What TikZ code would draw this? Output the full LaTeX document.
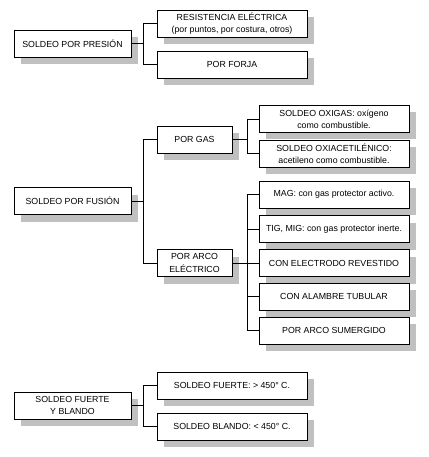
\documentclass[tikz,border=0pt]{standalone}
\usepackage{fontspec}
\setmainfont{Liberation Sans}
\usetikzlibrary{shadows}
\definecolor{shadowgray}{RGB}{192,192,192}
\tikzset{
  box/.style={draw=black, line width=0.9pt, fill=white, align=center,
    inner sep=1pt, minimum height=27pt,
    font=\fontsize{8.8}{12.2}\selectfont,
    drop shadow={shadow xshift=7pt, shadow yshift=-7pt, fill=shadowgray, opacity=1}},
  wide/.style={box, minimum width=150pt},
  lead/.style={box, minimum width=117pt},
  mid/.style={box, minimum width=75pt},
  link/.style={draw=black, line width=0.8pt}
}
\begin{document}
\begin{tikzpicture}[x=1pt,y=-1pt]
\useasboundingbox (0,0) rectangle (428,457);
% group 1
\node[lead] (pres) at (72.5,43.5) {SOLDEO POR PRESIÓN};
\node[wide] (resis) at (232,23.5) {RESISTENCIA ELÉCTRICA\\(por puntos, por costura, otros)};
\node[wide] (forja) at (232,64.5) {POR FORJA};
% group 2
\node[lead] (fus) at (72.5,201) {SOLDEO POR FUSIÓN};
\node[mid] (gas) at (194.5,139.5) {POR GAS};
\node[wide] (oxig) at (334,119) {SOLDEO OXIGAS: oxígeno\\como combustible.};
\node[wide] (oxiac) at (334,153.5) {SOLDEO OXIACETILÉNICO:\\acetileno como combustible.};
\node[mid] (arco) at (194.5,263) {POR ARCO\\ELÉCTRICO};
\node[wide] (mag) at (334,194.5) {MAG: con gas protector activo.};
\node[wide] (tig) at (334,229) {TIG, MIG: con gas protector inerte.};
\node[wide] (elec) at (334,263) {CON ELECTRODO REVESTIDO};
\node[wide] (alam) at (334,296.5) {CON ALAMBRE TUBULAR};
\node[wide] (sum) at (334,330.5) {POR ARCO SUMERGIDO};
% group 3
\node[lead] (fyb) at (72.5,405.5) {SOLDEO FUERTE\\Y BLANDO};
\node[wide] (fuerte) at (232,385.5) {SOLDEO FUERTE: > 450° C.};
\node[wide] (blando) at (232,426.5) {SOLDEO BLANDO: < 450° C.};
% connectors
\draw[link] (pres.east) -- ++(12,0) coordinate (s1);
\draw[link] (s1) |- (resis.west);
\draw[link] (s1) |- (forja.west);
\draw[link] (fus.east) -- ++(12,0) coordinate (s2);
\draw[link] (s2) |- (gas.west);
\draw[link] (s2) |- (arco.west);
\draw[link] (gas.east) -- ++(15,0) coordinate (s3);
\draw[link] (s3) |- (oxig.west);
\draw[link] (s3) |- (oxiac.west);
\draw[link] (arco.east) -- ++(15,0) coordinate (s4);
\draw[link] (s4) |- (mag.west);
\draw[link] (s4) |- (tig.west);
\draw[link] (s4) |- (elec.west);
\draw[link] (s4) |- (alam.west);
\draw[link] (s4) |- (sum.west);
\draw[link] (fyb.east) -- ++(12,0) coordinate (s5);
\draw[link] (s5) |- (fuerte.west);
\draw[link] (s5) |- (blando.west);
\end{tikzpicture}
\end{document}
